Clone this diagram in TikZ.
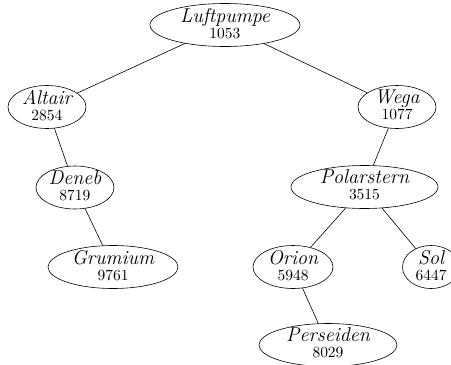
\documentclass[tikz,border=0pt]{standalone}
\usetikzlibrary{shapes.geometric}

% name above, number below (number: 10pt design size, enlarged)
\newcommand\starname[1]{{\fontsize{20}{16}\selectfont\itshape #1}}
\newcommand\starnum[1]{\scalebox{1.55}{\fontsize{10}{12}\selectfont #1}}
\newcommand\starlabel[2]{\starname{#1}\\\starnum{#2}}

\tikzset{
  star/.style={draw, ellipse, line width=0.6pt, inner xsep=0pt, inner ysep=-3pt,
    minimum height=43pt, text depth=3.9pt,
    align=center, font=\fontsize{15.5}{16}\selectfont},
  link/.style={line width=0.6pt}
}

\begin{document}
\begin{tikzpicture}[x=1pt,y=-1pt]
  \useasboundingbox (0,0) rectangle (451,365);
  \clip (0,0) rectangle (451,365);

  \node[star, minimum width=150pt] (luft) at (225,25)    {\starlabel{Luftpumpe}{1053}};
  \node[star, minimum width=78pt]  (alt)  at (47,107)    {\starlabel{Altair}{2854}};
  \node[star, minimum width=78pt]  (weg)  at (397,107)   {\starlabel{Wega}{1077}};
  \node[star, minimum width=78pt]  (den)  at (75,187.5)  {\starlabel{Deneb}{8719}};
  \node[star, minimum width=147pt] (pol)  at (364.5,187) {\starlabel{Polarstern}{3515}};
  \node[star, minimum width=130pt] (gru)  at (113,267)   {\starlabel{Grumium}{9761}};
  \node[star, minimum width=80pt]  (ori)  at (293,267)   {\starlabel{Orion}{5948}};
  \node[star, minimum width=57pt]  (sol)  at (431,267)   {\starlabel{Sol}{6447}};
  \node[star, minimum width=138pt] (per)  at (328,345)   {\starlabel{Perseiden}{8029}};

  \draw[link] (luft) -- (alt);
  \draw[link] (luft) -- (weg);
  \draw[link] (alt) -- (den);
  \draw[link] (den) -- (gru);
  \draw[link] (weg) -- (pol);
  \draw[link] (pol) -- (ori);
  \draw[link] (pol) -- (sol);
  \draw[link] (ori) -- (per);
\end{tikzpicture}
\end{document}
